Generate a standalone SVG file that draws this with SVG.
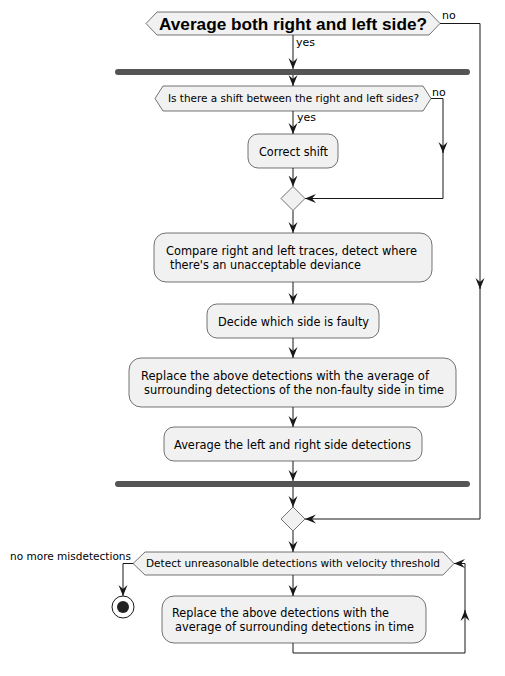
<svg xmlns="http://www.w3.org/2000/svg" width="505" height="676" viewBox="0 0 505 676">
<defs>
<marker id="arr" markerUnits="userSpaceOnUse" markerWidth="12" markerHeight="10" refX="11" refY="5" orient="auto" viewBox="0 0 12 10">
<path d="M0,0.5 L11,5 L0,9.5 L4,5 Z" fill="#181818"/>
</marker>
</defs>
<style>
.node{fill:#F1F1F1;stroke:#181818;stroke-width:0.6}
.bar{fill:#555555;stroke:none}
.t{font-family:"DejaVu Sans","Liberation Sans",sans-serif;font-size:12px;fill:#000}
.s{font-family:"DejaVu Sans","Liberation Sans",sans-serif;font-size:11px;fill:#000}
.b{font-family:"Liberation Sans","DejaVu Sans",sans-serif;font-size:17px;font-weight:bold;fill:#000}
.ca{fill:none;stroke:#181818;stroke-width:1;marker-end:url(#arr)}
</style>
<rect width="505" height="676" fill="#FFFFFF"/>
<g id="connectors">
<path class="ca" d="M293,35 V69"/>
<path class="ca" d="M293,75 V86"/>
<path class="ca" d="M293,111 V134"/>
<path class="ca" d="M293,168 V186.5"/>
<path class="ca" d="M431,98.5 H443 V153"/>
<path class="ca" d="M443,150 V198.5 H305"/>
<path class="ca" d="M293,210.5 V233"/>
<path class="ca" d="M293,282 V304"/>
<path class="ca" d="M293,338 V358"/>
<path class="ca" d="M293,407 V427"/>
<path class="ca" d="M293,461 V481"/>
<path class="ca" d="M293,487 V507"/>
<path class="ca" d="M440,23.5 H480 V289"/>
<path class="ca" d="M480,285 V519 H305"/>
<path class="ca" d="M293,531 V552"/>
<path class="ca" d="M293,575 V596"/>
<path class="ca" d="M293,643 V653 H465 V610"/>
<path class="ca" d="M465,613 V563.5 H454"/>
<path class="ca" d="M133,563.5 H123 V596"/>
<text class="s" x="296" y="46">yes</text>
<text class="s" x="442" y="19">no</text>
<text class="s" x="297" y="121">yes</text>
<text class="s" x="432" y="96">no</text>
<text class="s" x="10" y="560" textLength="121" lengthAdjust="spacingAndGlyphs">no more misdetections</text>
</g>
<g id="decision1">
<polygon class="node" points="146,23.5 157,12 429,12 440,23.5 429,35 157,35"/>
<text class="b" x="159" y="30" textLength="268" lengthAdjust="spacingAndGlyphs">Average both right and left side?</text>
</g>
<g id="fork1"><rect class="bar" x="115" y="69" width="355" height="6" rx="3"/></g>
<g id="decision2">
<polygon class="node" points="155,98.5 163,86 423,86 431,98.5 423,111 163,111"/>
<text class="s" x="168" y="102" textLength="251" lengthAdjust="spacingAndGlyphs">Is there a shift between the right and left sides?</text>
</g>
<g id="correctShift">
<rect class="node" x="248" y="134" width="90" height="34" rx="10"/>
<text class="t" x="259" y="155.5" textLength="69" lengthAdjust="spacingAndGlyphs">Correct shift</text>
</g>
<g id="merge1"><polygon class="node" points="293,186.5 305,198.5 293,210.5 281,198.5"/></g>
<g id="compare">
<rect class="node" x="154" y="233" width="278" height="49" rx="12"/>
<text class="t" x="166" y="255" textLength="251" lengthAdjust="spacingAndGlyphs">Compare right and left traces, detect where</text>
<text class="t" x="170" y="269" textLength="191" lengthAdjust="spacingAndGlyphs">there's an unacceptable deviance</text>
</g>
<g id="decide">
<rect class="node" x="207" y="304" width="172" height="34" rx="10"/>
<text class="t" x="218" y="326" textLength="151" lengthAdjust="spacingAndGlyphs">Decide which side is faulty</text>
</g>
<g id="replace1">
<rect class="node" x="129" y="358" width="327" height="49" rx="12"/>
<text class="t" x="141" y="380" textLength="288" lengthAdjust="spacingAndGlyphs">Replace the above detections with the average of</text>
<text class="t" x="144" y="394" textLength="300" lengthAdjust="spacingAndGlyphs">surrounding detections of the non-faulty side in time</text>
</g>
<g id="averageLR">
<rect class="node" x="164" y="427" width="258" height="34" rx="10"/>
<text class="t" x="174" y="449" textLength="237" lengthAdjust="spacingAndGlyphs">Average the left and right side detections</text>
</g>
<g id="join1"><rect class="bar" x="115" y="481" width="355" height="6" rx="3"/></g>
<g id="merge2"><polygon class="node" points="293,507 305,519 293,531 281,519"/></g>
<g id="decision3">
<polygon class="node" points="133,563.5 145,552 443,552 454,563.5 443,575 145,575"/>
<text class="s" x="146" y="567" textLength="294" lengthAdjust="spacingAndGlyphs">Detect unreasonalble detections with velocity threshold</text>
</g>
<g id="replace2">
<rect class="node" x="162" y="596" width="264" height="47" rx="12"/>
<text class="t" x="172" y="617" textLength="217" lengthAdjust="spacingAndGlyphs">Replace the above detections with the</text>
<text class="t" x="175" y="631" textLength="239" lengthAdjust="spacingAndGlyphs">average of surrounding detections in time</text>
</g>
<g id="end">
<circle cx="123" cy="607" r="11" fill="#FFFFFF" stroke="#181818" stroke-width="1"/>
<circle cx="123" cy="607" r="6" fill="#222222"/>
</g>
</svg>
